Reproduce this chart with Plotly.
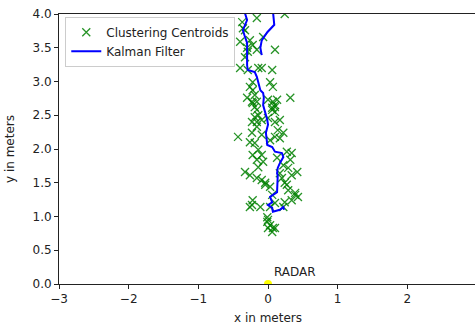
import plotly.graph_objects as go

# Clustering centroids (x, y in meters)
cent_x = [-0.37, -0.16, 0.24, -0.33, -0.36, -0.40, -0.26, -0.22, -0.30, -0.16, 0.10, -0.07, -0.33, -0.29,
          -0.14, -0.09, 0.06, -0.29, -0.40,
          -0.22, 0.03, 0.07, -0.26, -0.22, -0.19,
          -0.30, -0.23, -0.16, 0.00, 0.07, 0.32, 0.13,
          0.10, -0.19, -0.22, -0.16, 0.06, 0.10,
          -0.14, 0.00, 0.10, -0.16, -0.23, -0.19, -0.09, 0.06, 0.10, 0.17,
          -0.16, 0.14, 0.22, 0.17, 0.10, 0.03, -0.23, -0.09,
          -0.43, -0.26, -0.19, -0.14, -0.22, -0.09,
          -0.16, -0.07, -0.14, 0.13, 0.27, 0.34, 0.32, 0.22, 0.29, 0.34, 0.42, 0.17,
          -0.33, -0.26, -0.16, -0.09, -0.04, 0.03, 0.24, 0.29, 0.39, 0.43, 0.34, 0.06, 0.10, 0.22,
          -0.22, -0.11, -0.26, -0.23, 0.03, 0.24, 0.39, 0.27, 0.20, -0.04,
          -0.01, 0.00, -0.01, 0.03, 0.07, 0.00, 0.06, 0.10]
cent_y = [3.88, 3.94, 4.00, 3.76, 3.79, 3.59, 3.61, 3.54, 3.50, 3.47, 3.47, 3.66, 3.36, 3.44,
          3.20, 3.20, 3.17, 3.17, 3.20,
          2.99, 2.99, 2.92, 2.92, 2.87, 2.80,
          2.76, 2.70, 2.70, 2.73, 2.70, 2.76, 2.73,
          2.62, 2.62, 2.68, 2.58, 2.58, 2.55,
          2.50, 2.46, 2.40, 2.40, 2.40, 2.47, 2.43, 2.61, 2.65, 2.43,
          2.33, 2.28, 2.24, 2.16, 2.18, 2.13, 2.24, 2.21,
          2.18, 2.10, 2.09, 1.99, 1.91, 1.91,
          1.84, 1.81, 1.73, 1.87, 1.96, 1.94, 1.84, 1.76, 1.72, 1.61, 1.66, 1.64,
          1.66, 1.61, 1.57, 1.54, 1.47, 1.44, 1.50, 1.39, 1.35, 1.29, 1.24, 1.32, 1.20, 1.14,
          1.24, 1.14, 1.14, 1.17, 1.14, 1.21, 1.32, 1.47, 1.57, 1.50,
          0.99, 0.95, 0.92, 0.87, 0.83, 0.83, 0.77, 0.83]

# Kalman filter track
kf_x = [0.23, 0.22, 0.17, 0.07, 0.06, 0.00, 0.06, 0.03, 0.13, 0.14, 0.14, 0.13, 0.14, 0.17, 0.22, 0.20,
        0.10, 0.06, -0.01, -0.03, 0.00, -0.01, -0.04, -0.07, -0.06, -0.07, -0.11, -0.14, -0.16, -0.19,
        -0.29, -0.30, -0.30, -0.30, -0.33, -0.36, -0.30, -0.33, -0.30, 0.05, 0.07, 0.09, -0.01, -0.09,
        -0.11, -0.09]
kf_y = [1.10, 1.14, 1.10, 1.07, 1.13, 1.17, 1.21, 1.29, 1.36, 1.51, 1.61, 1.64, 1.72, 1.79, 1.88, 1.94,
        1.96, 2.03, 2.06, 2.24, 2.36, 2.43, 2.55, 2.65, 2.76, 2.83, 2.87, 2.99, 3.07, 3.14,
        3.17, 3.24, 3.42, 3.57, 3.66, 3.76, 3.91, 4.01, 4.40, 4.40, 4.05, 3.84, 3.73, 3.61,
        3.50, 3.39]

radar_x = [0]
radar_y = [0]

x_ticks = [-3, -2, -1, 0, 1, 2, 3]
y_ticks = [0.0, 0.5, 1.0, 1.5, 2.0, 2.5, 3.0, 3.5, 4.0]

fig = go.Figure()
fig.add_trace(go.Scatter(
    x=cent_x, y=cent_y, mode="markers", name="Clustering Centroids",
    marker=dict(symbol="x-thin-open", size=8, color="rgba(0,128,0,0.85)",
                line=dict(width=1.3, color="rgba(0,128,0,0.85)")),
    cliponaxis=True))
fig.add_trace(go.Scatter(
    x=kf_x, y=kf_y, mode="lines", name="Kalman Filter",
    line=dict(color="blue", width=2)))
fig.add_trace(go.Scatter(
    x=radar_x, y=radar_y, mode="markers", showlegend=False,
    marker=dict(color="yellow", size=8), cliponaxis=True))

fig.add_annotation(x=0.06, y=0.05, text="RADAR", showarrow=False,
                   xanchor="left", yanchor="bottom",
                   font=dict(size=12, color="#222"))

axis_common = dict(showgrid=False, zeroline=False, showline=True, mirror=True,
                   linecolor="#222", linewidth=1, ticks="outside", ticklen=4,
                   tickcolor="#222", tickfont=dict(size=12, color="#222"),
                   automargin=False)

fig.update_layout(
    width=477, height=325,
    margin=dict(l=59, r=0, t=14, b=41),
    paper_bgcolor="white", plot_bgcolor="white",
    font=dict(family="DejaVu Sans", size=12, color="#222"),
    showlegend=True,
    legend=dict(x=0.015, y=0.99, xanchor="left", yanchor="top",
                bgcolor="rgba(255,255,255,0.85)", bordercolor="#cccccc", borderwidth=1,
                font=dict(size=12), tracegroupgap=0),
    xaxis=dict(range=[-3, 3], tickvals=x_ticks,
               title=dict(text="x in meters", font=dict(size=12)), **axis_common),
    yaxis=dict(range=[0, 4], tickvals=y_ticks, tickformat=".1f",
               title=dict(text="y in meters", font=dict(size=12)), **axis_common),
)

fig.write_html(
    "out.html",
    config={"displayModeBar": False},
    post_script=("document.documentElement.style.overflow='hidden';"
                 "document.body.style.margin='0';"
                 "document.body.style.overflow='hidden';"),
)
